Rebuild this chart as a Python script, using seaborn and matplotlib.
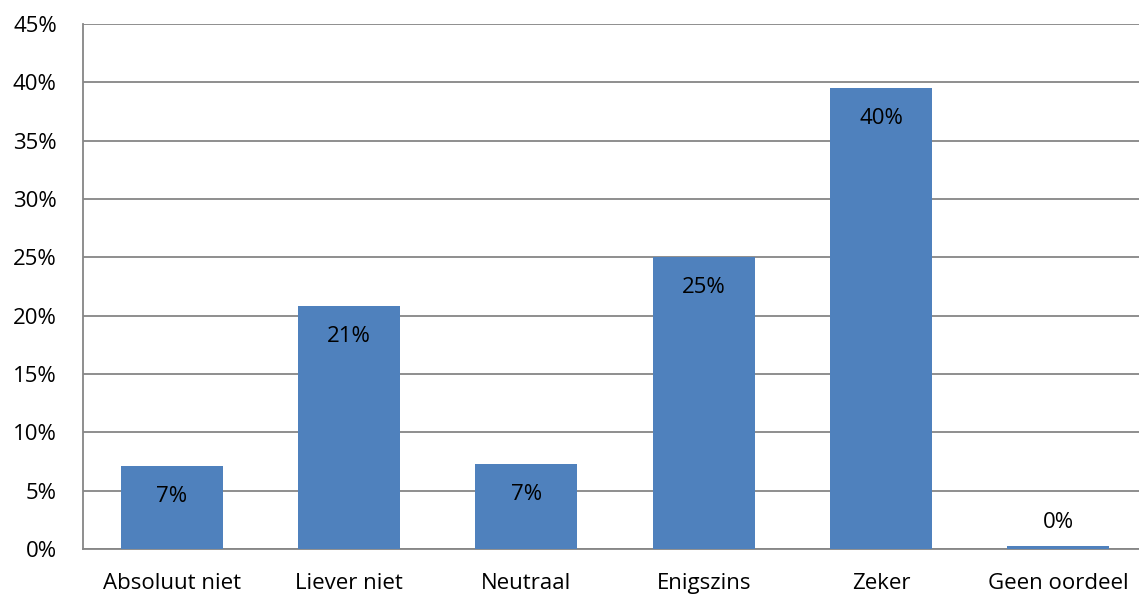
import numpy as np
import pandas as pd
import seaborn as sns
import matplotlib.pyplot as plt
from matplotlib.ticker import PercentFormatter

categories = ['Absoluut niet', 'Liever niet', 'Neutraal', 'Enigszins', 'Zeker', 'Geen oordeel']
values = [7.1, 20.8, 7.3, 25.0, 39.5, 0.25]
labels = ['7%', '21%', '7%', '25%', '40%', '0%']

df = pd.DataFrame({'categorie': categories, 'aandeel': values})

sns.set_theme(style='white')
plt.rcParams['font.family'] = ['Open Sans', 'DejaVu Sans']

fig = plt.figure(figsize=(11.39, 5.95), dpi=100)
ax = fig.add_axes([0.073, 0.077, 0.934, 0.883])

sns.barplot(data=df, x='categorie', y='aandeel', color='#4F81BD',
            saturation=1, width=0.575, linewidth=0, ax=ax, zorder=3)

ax.set_ylim(0, 45)
ax.set_yticks(np.arange(0, 46, 5))
ax.yaxis.set_major_formatter(PercentFormatter(decimals=0))
ax.set_xlim(-0.5, 5.5)
ax.grid(axis='y', color='#868686', linewidth=1.3, zorder=0)
for s in ['top', 'right']:
    ax.spines[s].set_visible(False)
for s in ['left', 'bottom']:
    ax.spines[s].set_color('#868686')
    ax.spines[s].set_linewidth(1.3)
ax.set_xlabel('')
ax.set_ylabel('')
ax.tick_params(axis='y', length=0, pad=19, labelsize=16, labelcolor='black')
ax.tick_params(axis='x', length=0, pad=17, labelsize=16, labelcolor='black')

for i, (v, lab) in enumerate(zip(values, labels)):
    if v > 3:
        ax.annotate(lab, (i, v), xytext=(0, -22), textcoords='offset points',
                    ha='center', va='center', fontsize=16, color='black', zorder=4)
    else:
        ax.annotate(lab, (i, v), xytext=(0, 17), textcoords='offset points',
                    ha='center', va='center', fontsize=16, color='black', zorder=4)

plt.savefig('out.png', dpi=100)
